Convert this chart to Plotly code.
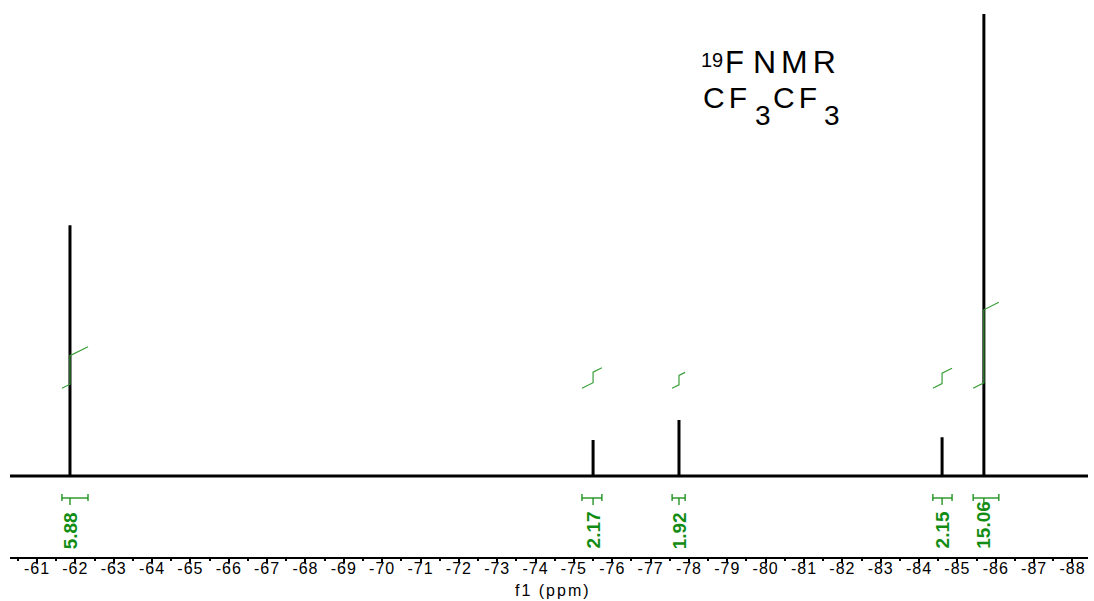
import plotly.graph_objects as go

# 19F spectrum: peak positions (ppm) and relative intensities
peak_ppm = [-61.86, -75.50, -77.74, -84.60, -85.69]
peak_height = [54.3, 7.8, 12.1, 8.4, 100.0]

# integration regions (ppm) and integral values
int_start = [-61.65, -75.21, -77.56, -84.36, -85.41]
int_end = [-62.33, -75.73, -77.90, -84.86, -86.08]
int_value = [5.88, 2.17, 1.92, 2.15, 15.06]
int_label = ["5.88", "2.17", "1.92", "2.15", "15.06"]

# axis ticks
tick_vals = [-61, -62, -63, -64, -65, -66, -67, -68, -69, -70, -71, -72, -73, -74,
             -75, -76, -77, -78, -79, -80, -81, -82, -83, -84, -85, -86, -87, -88]
tick_text = [str(v) for v in tick_vals]

X_LEFT, X_RIGHT = -60.296, -88.405
Y_BOTTOM, Y_TOP = -17.53, 103.03

GREEN = "#128c12"
GREEN_LINE = "#3a9e3a"
FONT = "Liberation Sans, Arial, sans-serif"


def spaced(text, spacing):
    return '<span style="letter-spacing:%spx">%s</span>' % (spacing, text)


fig = go.Figure()

# spectrum: flat baseline with a sharp line at every resonance
sx, sy = [X_LEFT], [0.0]
for p, h in zip(peak_ppm, peak_height):
    sx += [p, p, p]
    sy += [0.0, h, 0.0]
sx.append(X_RIGHT)
sy.append(0.0)
fig.add_trace(go.Scatter(x=sx, y=sy, mode="lines",
                         line=dict(color="black", width=3), hoverinfo="skip"))

# integral curves: tilted run with a step at the peak, step height from the integral
INT_OFFSET = 19.0
INT_TILT = 4.15
INT_SCALE = 1.05
for a, b, p, v in zip(int_start, int_end, peak_ppm, int_value):
    pre = INT_OFFSET + INT_TILT * (a - p)
    fig.add_trace(go.Scatter(
        x=[a, p, p, b],
        y=[INT_OFFSET, pre, pre + INT_SCALE * v, INT_OFFSET + INT_TILT * (a - b) + INT_SCALE * v],
        mode="lines", line=dict(color=GREEN_LINE, width=1.2), hoverinfo="skip"))

# integration brackets under the baseline
BR_Y, BR_TOP, BR_BOT, BR_MID = -4.76, -3.9, -5.41, -6.28
for a, b, p in zip(int_start, int_end, peak_ppm):
    fig.add_trace(go.Scatter(
        x=[a, a, None, a, b, None, b, b, None, p, p],
        y=[BR_TOP, BR_BOT, None, BR_Y, BR_Y, None, BR_TOP, BR_BOT, None, BR_Y, BR_MID],
        mode="lines", line=dict(color=GREEN, width=1.3), hoverinfo="skip"))

annotations = []
for p, lab in zip(peak_ppm, int_label):
    annotations.append(dict(
        x=p, y=-16.2, xref="x", yref="y", text="<b>" + lab + "</b>", showarrow=False,
        textangle=-90, xanchor="center", yanchor="bottom",
        font=dict(family=FONT, size=19, color=GREEN)))


def px_x(px):
    return (px - 10) / 1078.0


def px_y(py):
    return 1 - py / 557.0


def title_piece(text, left, mid, size, spacing=0):
    if spacing:
        text = spaced(text, spacing)
    return dict(x=px_x(left), y=px_y(mid), xref="paper", yref="paper", text=text,
                showarrow=False, xanchor="left", yanchor="middle", borderpad=0,
                font=dict(family=FONT, size=size, color="black"))


annotations += [
    title_piece("19", 700, 60, 20),
    title_piece("F", 724, 62, 31),
    title_piece("NMR", 752, 62, 32, spacing=5),
    title_piece("CF", 702, 97, 30, spacing=4),
    title_piece("3", 754, 115, 28),
    title_piece("CF", 772, 97, 30, spacing=4),
    title_piece("3", 823, 115, 28),
]

# x-axis caption under the tick labels
annotations.append(dict(
    x=px_x(553), y=px_y(590), xref="paper", yref="paper", text=spaced("f1 (ppm)", 2),
    showarrow=False, xanchor="center", yanchor="middle", borderpad=0,
    font=dict(family=FONT, size=16, color="black")))

fig.update_layout(
    width=1094, height=601,
    margin=dict(l=10, r=6, t=0, b=44),
    paper_bgcolor="white", plot_bgcolor="white",
    showlegend=False,
    annotations=annotations,
    font=dict(family=FONT, color="black"),
    xaxis=dict(
        range=[X_LEFT, X_RIGHT], showgrid=False, zeroline=False,
        showline=True, linecolor="black", linewidth=1.5,
        ticks="outside", ticklen=4, tickwidth=1.5, tickcolor="black",
        tickmode="array", tickvals=tick_vals,
        ticktext=[spaced(t, 1) for t in tick_text],
        tickfont=dict(family=FONT, size=16, color="black"),
        ticklabelstandoff=-8,
        minor=dict(tickmode="linear", tick0=-60.5, dtick=1,
                   ticks="outside", ticklen=2, tickwidth=1.5, tickcolor="black"),
    ),
    yaxis=dict(range=[Y_BOTTOM, Y_TOP], visible=False, showgrid=False, zeroline=False),
)

fig.write_html("out.html")
